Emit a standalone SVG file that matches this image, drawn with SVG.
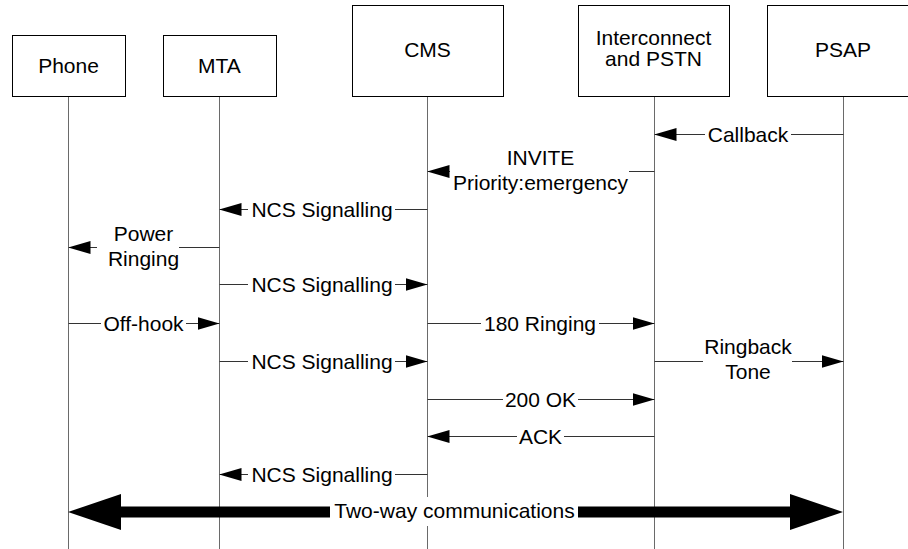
<svg xmlns="http://www.w3.org/2000/svg" width="908" height="549" viewBox="0 0 908 549">
<defs>
<style>
text{font-family:"Liberation Sans",Arial,sans-serif;font-size:21px;fill:#000;text-anchor:middle}
.box{fill:#fff;stroke:#000;stroke-width:1}
.life{stroke:#6a6a6a;stroke-width:1;fill:none}
.msg{stroke:#333;stroke-width:1;fill:none;marker-end:url(#ah)}
.bg{fill:#fff}
</style>
<marker id="ah" viewBox="0 0 22 13" refX="22" refY="6.5" markerWidth="22" markerHeight="13" markerUnits="userSpaceOnUse" orient="auto">
<path d="M0,0 L22,6.5 L0,13 Z" fill="#000"/>
</marker>
</defs>
<rect width="908" height="549" fill="#fff"/>

<g id="lifelines">
<line class="life" x1="68.5" y1="96" x2="68.5" y2="549"/>
<line class="life" x1="219.5" y1="96" x2="219.5" y2="549"/>
<line class="life" x1="427.5" y1="96" x2="427.5" y2="549"/>
<line class="life" x1="654.5" y1="96" x2="654.5" y2="549"/>
<line class="life" x1="843.5" y1="96" x2="843.5" y2="549"/>
</g>

<g id="node-phone">
<rect class="box" x="12.5" y="35.5" width="113" height="61"/>
<text x="68.5" y="73">Phone</text>
</g>
<g id="node-mta">
<rect class="box" x="163.5" y="35.5" width="113" height="61"/>
<text x="219.5" y="73">MTA</text>
</g>
<g id="node-cms">
<rect class="box" x="352.5" y="5.5" width="151" height="91"/>
<text x="427.5" y="57">CMS</text>
</g>
<g id="node-interconnect">
<rect class="box" x="578.5" y="5.5" width="151" height="91"/>
<text x="653.5" y="45">Interconnect</text>
<text x="653.5" y="66">and PSTN</text>
</g>
<g id="node-psap">
<rect class="box" x="767.5" y="5.5" width="151" height="91"/>
<text x="843" y="57">PSAP</text>
</g>

<g id="connectors">
<line class="msg" x1="843.5" y1="134.5" x2="654.5" y2="134.5"/>
<rect class="bg" x="705" y="128" width="86" height="13"/>
<text x="748" y="141.5">Callback</text>

<line class="msg" x1="654.5" y1="171.5" x2="427.5" y2="171.5"/>
<rect class="bg" x="450" y="163" width="179" height="17"/>
<text x="540.5" y="165">INVITE</text>
<text x="540.5" y="190">Priority:emergency</text>

<line class="msg" x1="427.5" y1="209.5" x2="219.5" y2="209.5"/>
<rect class="bg" x="248" y="203" width="147" height="13"/>
<text x="322" y="216.5">NCS Signalling</text>

<line class="msg" x1="219.5" y1="247.5" x2="68.5" y2="247.5"/>
<rect class="bg" x="97" y="240" width="82" height="15"/>
<text x="143.5" y="241">Power</text>
<text x="143.5" y="266">Ringing</text>

<line class="msg" x1="219.5" y1="284.5" x2="427.5" y2="284.5"/>
<rect class="bg" x="248" y="278" width="147" height="13"/>
<text x="322" y="291.5">NCS Signalling</text>

<line class="msg" x1="68.5" y1="323.5" x2="219.5" y2="323.5"/>
<rect class="bg" x="101" y="317" width="85" height="13"/>
<text x="143.5" y="330.5">Off-hook</text>

<line class="msg" x1="427.5" y1="323.5" x2="654.5" y2="323.5"/>
<rect class="bg" x="481" y="317" width="118" height="13"/>
<text x="540" y="330.5">180 Ringing</text>

<line class="msg" x1="219.5" y1="361.5" x2="427.5" y2="361.5"/>
<rect class="bg" x="248" y="355" width="147" height="13"/>
<text x="322" y="368.5">NCS Signalling</text>

<line class="msg" x1="654.5" y1="361.5" x2="843.5" y2="361.5"/>
<rect class="bg" x="703" y="354" width="89" height="15"/>
<text x="748" y="354">Ringback</text>
<text x="748" y="379">Tone</text>

<line class="msg" x1="427.5" y1="399.5" x2="654.5" y2="399.5"/>
<rect class="bg" x="503" y="393" width="75" height="13"/>
<text x="540.5" y="406.5">200 OK</text>

<line class="msg" x1="654.5" y1="436.5" x2="427.5" y2="436.5"/>
<rect class="bg" x="517" y="430" width="47" height="13"/>
<text x="540.5" y="443.5">ACK</text>

<line class="msg" x1="427.5" y1="474.5" x2="219.5" y2="474.5"/>
<rect class="bg" x="248" y="468" width="147" height="13"/>
<text x="322" y="481.5">NCS Signalling</text>

<line x1="121" y1="512" x2="790" y2="512" stroke="#000" stroke-width="11"/>
<polygon points="68,512 121,494 121,530" fill="#000"/>
<polygon points="843,512 790,494 790,530" fill="#000"/>
<rect class="bg" x="330" y="497" width="248" height="29"/>
<text x="454.5" y="517.5">Two-way communications</text>
</g>
</svg>
